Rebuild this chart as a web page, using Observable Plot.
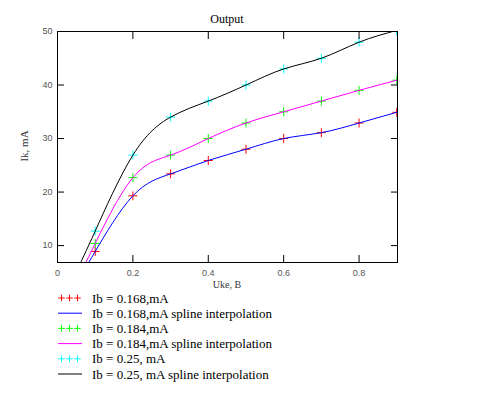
<!DOCTYPE html>
<html><head><meta charset="utf-8">
<script src="https://cdn.jsdelivr.net/npm/d3@7"></script>
<script src="https://cdn.jsdelivr.net/npm/@observablehq/plot@0.6"></script>
<style>body{margin:0;background:#fff;} svg{display:block;}</style>
</head><body><div id="chart"></div>
<script>
const title = "Output";
const xLabel = "Uke, B";
const yLabel = "Ik, mA";
const uke = [0.1, 0.2, 0.3, 0.4, 0.5, 0.6, 0.7, 0.8, 0.9];
const ik168 = [8.9, 19.3, 23.4, 25.9, 28.0, 30.0, 31.1, 32.9, 34.9];
const ik184 = [10.4, 22.7, 26.9, 30.0, 32.9, 35.0, 37.0, 39.0, 40.9];
const ik250 = [12.7, 26.9, 34.0, 37.0, 40.0, 43.0, 45.0, 48.0, 50.2];
// spline continuation below the first measured point (read where curves leave the frame)
const ukeStart = 0.05;
const ikStart = [2.84, 3.28, 5.19];
const pointColors = ["#ff0000", "#00ff00", "#00ffff"];
const lineColors = ["#0000ff", "#ff00ff", "#000000"];
const xTicks = [0, 0.2, 0.4, 0.6, 0.8];
const yTicks = [10, 20, 30, 40, 50];
const legendLabels = [
  "Ib = 0.168,mA", "Ib = 0.168,mA spline interpolation",
  "Ib = 0.184,mA", "Ib = 0.184,mA spline interpolation",
  "Ib = 0.25, mA", "Ib = 0.25, mA spline interpolation"
];

const allY = [ik168, ik184, ik250];
const points = [];
const curves = [];
allY.forEach((ys, s) => {
  curves.push({x: ukeStart, y: ikStart[s], s});
  ys.forEach((y, i) => {
    points.push({x: uke[i], y, s});
    curves.push({x: uke[i], y, s});
  });
});

const W = 484, H = 395;
const plot = Plot.plot({
  width: W, height: H,
  marginLeft: 57, marginTop: 31, marginRight: 87, marginBottom: 133,
  style: {fontFamily: "'Liberation Sans', Arial, sans-serif", fontSize: "9px", color: "#444", background: "#fff"},
  x: {domain: [0, 0.902], ticks: xTicks, tickFormat: d => String(d)},
  y: {domain: [6.84, 50], ticks: yTicks},
  marks: [
    Plot.dot(points, {x: "x", y: "y", symbol: "plus", r: 3, stroke: d => pointColors[d.s], strokeWidth: 1, clip: true}),
    Plot.line(curves, {x: "x", y: "y", z: "s", stroke: d => lineColors[d.s], curve: "natural", strokeWidth: 1, clip: true}),
    Plot.axisX({anchor: "bottom", ticks: xTicks, tickSize: -7, tickPadding: 14, tickFormat: d => String(d), label: null, stroke: "#000", fill: "#555"}),
    Plot.axisX({anchor: "top", ticks: xTicks.slice(1), tickSize: -7, tickFormat: () => "", label: null, stroke: "#000"}),
    Plot.axisY({anchor: "left", ticks: yTicks, tickSize: -7, tickPadding: 12, label: null, stroke: "#000", fill: "#555"}),
    Plot.axisY({anchor: "right", ticks: yTicks, tickSize: -7, tickFormat: () => "", label: null, stroke: "#000"}),
    Plot.frame({stroke: "#000", strokeWidth: 1})
  ]
});

const svg = d3.select(plot);
const serif = "'Liberation Serif', 'Times New Roman', serif";
svg.append("text").attr("x", 227).attr("y", 23).attr("text-anchor", "middle")
  .attr("font-family", serif).attr("font-size", 12).attr("fill", "#000").text(title);
svg.append("text").attr("x", 227).attr("y", 288).attr("text-anchor", "middle")
  .attr("font-family", serif).attr("font-size", 10).attr("fill", "#333").text(xLabel);
svg.append("text").attr("transform", "translate(28,146) rotate(-90)").attr("text-anchor", "middle")
  .attr("font-family", serif).attr("font-size", 11).attr("fill", "#333").text(yLabel);

const lg = svg.append("g").attr("text-anchor", "start");
const plusPath = d3.symbol(d3.symbolPlus, 16)();
legendLabels.forEach((lab, i) => {
  const cy = 298 + i * 15.2;
  const s = Math.floor(i / 2);
  if (i % 2 === 0) {
    [61.5, 69.5, 77.5].forEach(cx => {
      lg.append("path").attr("d", plusPath).attr("transform", `translate(${cx},${cy})`)
        .attr("fill", "none").attr("stroke", pointColors[s]).attr("stroke-width", 1);
    });
  } else {
    lg.append("line").attr("x1", 58).attr("x2", 82).attr("y1", cy).attr("y2", cy)
      .attr("stroke", lineColors[s]).attr("stroke-width", 1);
  }
  lg.append("text").attr("x", 92).attr("y", cy + 4.5).attr("text-anchor", "start").attr("font-family", serif)
    .attr("font-size", 13).attr("fill", "#000").text(lab);
});

document.getElementById("chart").appendChild(plot);
</script></body></html>
